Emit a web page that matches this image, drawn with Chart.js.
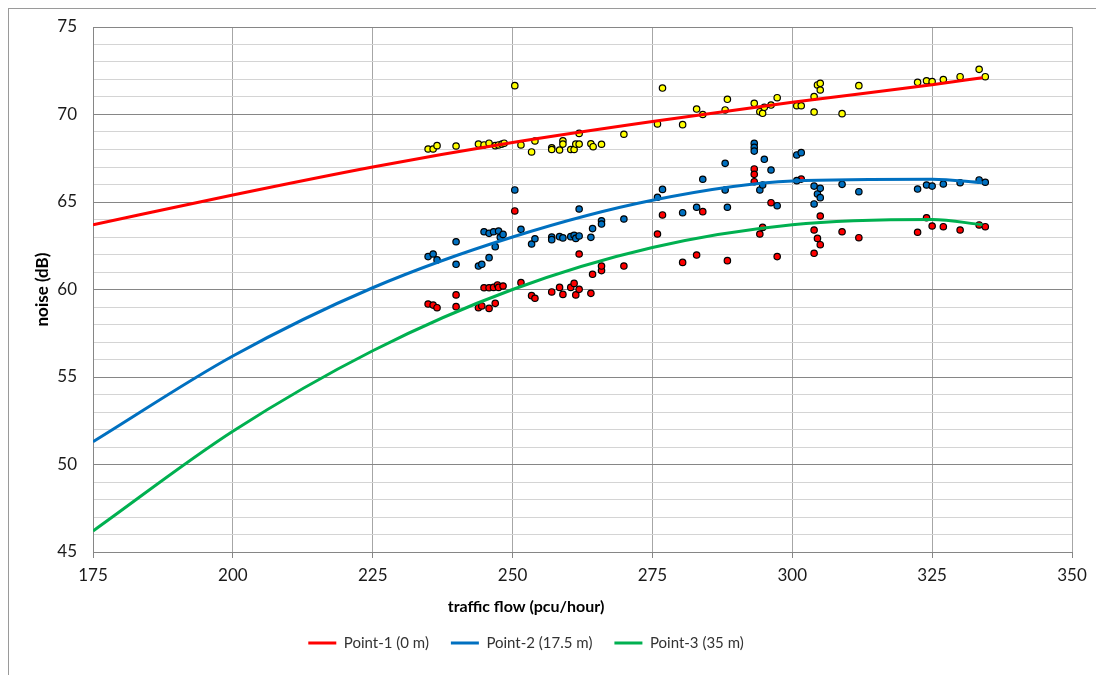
<html>
<head>
<script src="https://cdn.jsdelivr.net/npm/chart.js@4.4.1/dist/chart.umd.min.js"></script>
<style>
  body { margin: 0; background: white; }
  #wrap { position: relative; width: 1096px; height: 675px; overflow: hidden; }
  /* outer chart frame, right and bottom edges fall outside the window */
  #frame { position: absolute; left: 8px; top: 8px; width: 1200px; height: 800px; border: 1px solid #9a9a9a; }
  canvas { position: absolute; left: 0; top: 0; }
</style>
</head>
<body>
<div id="wrap">
  <div id="frame"></div>
  <canvas id="noiseChart" width="1096" height="675"></canvas>
</div>

<script>
  // measured points, Point-1 (0 m)
  var flowP1 = [234.9, 235.8, 236.5, 239.9, 243.9, 244.9, 245.8, 246.9, 247.5, 248.1, 248.5, 250.4, 251.5, 253.4, 254.0,
    257.0, 257.0, 258.4, 259.0, 259.0, 260.4, 261.0, 261.3, 261.9, 261.9, 264.0, 264.4, 265.9, 269.9, 275.9,
    276.8, 280.4, 282.9, 284.0, 288.0, 288.4, 293.2, 294.2, 294.7, 295.0, 296.2, 297.3, 300.8, 301.6, 303.9,
    303.9, 304.5, 305.0, 305.0, 308.9, 311.9, 322.4, 324.0, 325.0, 327.0, 330.0, 333.4, 334.5];
  var noiseP1 = [68.03, 68.03, 68.22, 68.2, 68.31, 68.26, 68.36, 68.22, 68.26, 68.31, 68.36, 71.65, 68.26, 67.86, 68.49,
    68.1, 68.0, 67.97, 68.5, 68.31, 68.0, 68.0, 68.31, 68.31, 68.92, 68.33, 68.16, 68.3, 68.87, 69.46,
    71.51, 69.42, 70.31, 70.0, 70.26, 70.87, 70.64, 70.16, 70.07, 70.41, 70.54, 70.96, 70.5, 70.5, 71.02,
    70.14, 71.69, 71.78, 71.4, 70.05, 71.65, 71.84, 71.93, 71.88, 72.0, 72.16, 72.58, 72.16];

  // Point-2 (17.5 m)
  var flowP2 = [234.9, 235.8, 236.5, 239.9, 239.9, 243.9, 244.5, 244.9, 245.8, 245.8, 246.6, 246.9, 247.5, 247.8, 248.3,
    250.4, 251.5, 253.4, 254.0, 257.0, 257.0, 258.4, 259.0, 260.4, 261.0, 261.3, 261.9, 261.9, 264.0, 264.3,
    265.9, 265.9, 269.9, 275.9, 276.8, 280.4, 282.9, 284.0, 288.0, 288.0, 288.4, 293.2, 293.2, 293.2, 294.2,
    294.7, 295.0, 296.2, 297.3, 300.8, 301.6, 300.8, 303.9, 303.9, 304.5, 305.0, 305.0, 308.9, 311.9, 322.4,
    324.0, 325.0, 327.0, 330.0, 333.4, 334.5];
  var noiseP2 = [61.88, 62.03, 61.69, 62.73, 61.44, 61.34, 61.44, 63.3, 63.21, 61.82, 63.3, 62.45, 63.34, 62.98, 63.15,
    65.69, 63.44, 62.6, 62.9, 63.0, 62.85, 63.02, 62.95, 63.02, 63.1, 62.92, 64.6, 63.06, 62.98, 63.48,
    63.93, 63.74, 64.03, 65.27, 65.72, 64.39, 64.7, 66.3, 67.21, 65.69, 64.7, 68.35, 68.12, 67.91, 65.69,
    65.97, 67.44, 66.83, 64.79, 67.69, 67.82, 66.22, 65.91, 64.89, 65.46, 65.78, 65.25, 66.01, 65.59, 65.74,
    65.97, 65.91, 66.03, 66.1, 66.26, 66.13];

  // Point-3 (35 m)
  var flowP3 = [234.9, 235.8, 236.5, 239.9, 239.9, 243.9, 244.5, 244.9, 245.8, 245.8, 246.6, 246.9, 247.3, 247.5, 248.3,
    250.4, 251.5, 253.4, 254.0, 257.0, 258.4, 259.0, 260.4, 261.0, 261.3, 261.9, 261.9, 264.0, 264.3, 265.9,
    265.9, 269.9, 275.9, 276.8, 280.4, 282.9, 284.0, 288.4, 293.2, 293.2, 293.2, 294.2, 294.7, 296.2, 297.3,
    301.6, 303.9, 303.9, 304.5, 305.0, 305.0, 308.9, 311.9, 322.4, 324.0, 325.0, 327.0, 330.0, 333.4, 334.5];
  var noiseP3 = [59.17, 59.11, 58.96, 59.69, 59.02, 58.96, 59.06, 60.1, 58.92, 60.1, 60.12, 59.21, 60.26, 60.12, 60.2,
    64.49, 60.39, 59.65, 59.5, 59.86, 60.12, 59.72, 60.12, 60.35, 59.69, 60.01, 62.03, 59.78, 60.87, 61.08,
    61.34, 61.34, 63.17, 64.26, 61.55, 61.97, 64.45, 61.65, 66.89, 66.58, 66.16, 63.17, 63.55, 64.96, 61.88,
    66.31, 63.4, 62.07, 62.92, 64.2, 62.56, 63.3, 62.96, 63.27, 64.1, 63.63, 63.59, 63.4, 63.69, 63.59];

  // trend lines
  var trendFlow = [175, 200, 225, 250, 275, 300, 325, 334];
  var trendP1 = [63.7, 65.4, 67.0, 68.4, 69.6, 70.7, 71.7, 72.1];
  var trendP2 = [51.3, 56.2, 60.1, 63.0, 65.1, 66.2, 66.3, 66.1];
  var trendP3 = [46.2, 51.9, 56.5, 60.0, 62.4, 63.7, 64.0, 63.7];

  var legendNames = ["Point-1 (0 m)", "Point-2 (17.5 m)", "Point-3 (35 m)"];

  function toPoints(xs, ys) {
    return xs.map(function (x, i) { return { x: x, y: ys[i] }; });
  }

  function trendSet(label, ys, color) {
    return {
      type: "line",
      label: label,
      data: toPoints(trendFlow, ys),
      borderColor: color,
      backgroundColor: color,
      borderWidth: 3,
      pointRadius: 0,
      cubicInterpolationMode: "monotone",
      order: 0
    };
  }

  function dotSet(label, xs, ys, color) {
    return {
      type: "scatter",
      label: label,
      data: toPoints(xs, ys),
      backgroundColor: color,
      borderColor: "#000000",
      pointRadius: 3.2,
      pointBorderWidth: 1.2,
      pointHoverRadius: 3.2,
      order: 1
    };
  }

  // x axis title and legend placed like the original (centred left of the plot centre)
  var placeExtras = {
    id: "placeExtras",
    beforeDraw: function (chart) {
      var lg = chart.legend;
      lg.left = 0;
      lg.right = 1052;
      lg.top = 643 - 22 - 7.5;
    },
    afterDraw: function (chart) {
      var ctx = chart.ctx;
      ctx.save();
      ctx.font = "bold 16px Lato";
      ctx.fillStyle = "#000000";
      ctx.textAlign = "center";
      ctx.textBaseline = "middle";
      ctx.fillText("traffic flow (pcu/hour)", 526, 607);
      ctx.restore();
    }
  };

  Chart.defaults.font.family = "Lato";
  Chart.defaults.color = "#1a1a1a";

  var noiseChart = new Chart(document.getElementById("noiseChart"), {
    type: "scatter",
    data: {
      datasets: [
        trendSet(legendNames[0], trendP1, "#FF0000"),
        trendSet(legendNames[1], trendP2, "#0070C0"),
        trendSet(legendNames[2], trendP3, "#00B050"),
        dotSet("P1 data", flowP1, noiseP1, "#FFFF00"),
        dotSet("P2 data", flowP2, noiseP2, "#0070C0"),
        dotSet("P3 data", flowP3, noiseP3, "#FF0000")
      ]
    },
    options: {
      responsive: false,
      animation: false,
      layout: { padding: { left: 0, top: 27, right: 24, bottom: 0 } },
      plugins: {
        tooltip: { enabled: false },
        legend: {
          position: "bottom",
          labels: {
            usePointStyle: true,
            pointStyle: "line",
            pointStyleWidth: 28,
            padding: 22,
            font: { size: 15 },
            color: "#333333",
            filter: function (item) { return item.datasetIndex < 3; }
          }
        }
      },
      scales: {
        x: {
          type: "linear",
          min: 175,
          max: 350,
          afterFit: function (scale) { scale.height = 76; },
          ticks: { stepSize: 25, padding: 7, font: { size: 17 } },
          grid: { color: "#a6a6a6", tickLength: 6, tickColor: "#868686" },
          border: { color: "#868686" }
        },
        y: {
          min: 45,
          max: 75,
          afterFit: function (scale) { scale.width = 93; },
          ticks: {
            stepSize: 1,
            autoSkip: false,
            padding: 16,
            font: { size: 17 },
            callback: function (v) { return v % 5 === 0 ? v : ""; }
          },
          grid: {
            drawTicks: false,
            color: function (c) { return c.tick.value % 5 === 0 ? "#868686" : "#d4d4d4"; }
          },
          border: { color: "#868686" },
          title: {
            display: true,
            text: "noise (dB)",
            color: "#000000",
            font: { size: 17, weight: "bold" },
            padding: { top: 32 }
          }
        }
      }
    },
    plugins: [placeExtras]
  });
</script>
</body>
</html>
